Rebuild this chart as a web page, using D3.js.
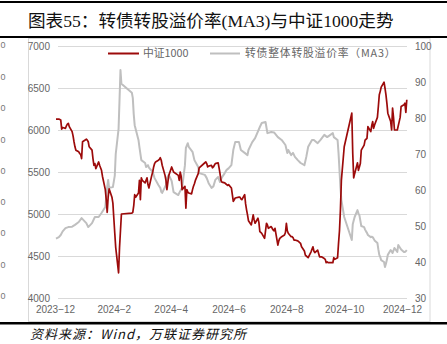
<!DOCTYPE html>
<html><head><meta charset="utf-8">
<script src="https://cdn.jsdelivr.net/npm/d3@7"></script>
<style>
html,body{margin:0;padding:0;background:#fff;}
svg{display:block;}
</style></head>
<body>
<svg id="c" width="447" height="344"></svg>
<script>
// ---------- data ----------
const titleText = "图表55：转债转股溢价率(MA3)与中证1000走势";
const sourceText = "资料来源：Wind，万联证券研究所";
const seriesNames = ["中证1000", "转债整体转股溢价率（MA3）"];
const leftTicks = [4000, 4500, 5000, 5500, 6000, 6500, 7000];
const rightTicks = [30, 40, 50, 60, 70, 80, 90, 100];
const monthTicks = ["2023-12", "2024-2", "2024-4", "2024-6", "2024-8", "2024-10", "2024-12"];

const csiDates = [
"2023-12-01","2023-12-04","2023-12-05","2023-12-06","2023-12-07","2023-12-08","2023-12-11","2023-12-12","2023-12-13","2023-12-14","2023-12-15",
"2023-12-18","2023-12-19","2023-12-20","2023-12-21","2023-12-22","2023-12-25","2023-12-26","2023-12-27","2023-12-28","2023-12-29",
"2024-01-02","2024-01-03","2024-01-04","2024-01-05","2024-01-08","2024-01-09","2024-01-10","2024-01-11","2024-01-12","2024-01-15","2024-01-16",
"2024-01-17","2024-01-18","2024-01-19","2024-01-22","2024-01-23","2024-01-24","2024-01-25","2024-01-26","2024-01-29","2024-01-30","2024-01-31",
"2024-02-01","2024-02-02","2024-02-05","2024-02-06","2024-02-07","2024-02-08","2024-02-19","2024-02-20","2024-02-21","2024-02-22","2024-02-23",
"2024-02-26","2024-02-27","2024-02-28","2024-02-29","2024-03-01","2024-03-04","2024-03-05","2024-03-06","2024-03-07","2024-03-08","2024-03-11",
"2024-03-12","2024-03-13","2024-03-14","2024-03-15","2024-03-18","2024-03-19","2024-03-20","2024-03-21","2024-03-22","2024-03-25","2024-03-26",
"2024-03-27","2024-03-28","2024-03-29","2024-04-01","2024-04-02","2024-04-03","2024-04-08","2024-04-09","2024-04-10","2024-04-11","2024-04-12",
"2024-04-15","2024-04-16","2024-04-17","2024-04-18","2024-04-19","2024-04-22","2024-04-23","2024-04-24","2024-04-25","2024-04-26","2024-04-29",
"2024-04-30","2024-05-06","2024-05-07","2024-05-08","2024-05-09","2024-05-10","2024-05-13","2024-05-14","2024-05-15","2024-05-16","2024-05-17",
"2024-05-20","2024-05-21","2024-05-22","2024-05-23","2024-05-24","2024-05-27","2024-05-28","2024-05-29","2024-05-30","2024-05-31","2024-06-03",
"2024-06-04","2024-06-05","2024-06-06","2024-06-07","2024-06-11","2024-06-12","2024-06-13","2024-06-14","2024-06-17","2024-06-18","2024-06-19",
"2024-06-20","2024-06-21","2024-06-24","2024-06-25","2024-06-26","2024-06-27","2024-06-28","2024-07-01","2024-07-02","2024-07-03","2024-07-04",
"2024-07-05","2024-07-08","2024-07-09","2024-07-10","2024-07-11","2024-07-12","2024-07-15","2024-07-16","2024-07-17","2024-07-18","2024-07-19",
"2024-07-22","2024-07-23","2024-07-24","2024-07-25","2024-07-26","2024-07-29","2024-07-30","2024-07-31","2024-08-01","2024-08-02","2024-08-05",
"2024-08-06","2024-08-07","2024-08-08","2024-08-09","2024-08-12","2024-08-13","2024-08-14","2024-08-15","2024-08-16","2024-08-19","2024-08-20",
"2024-08-21","2024-08-22","2024-08-23","2024-08-26","2024-08-27","2024-08-28","2024-08-29","2024-08-30","2024-09-02","2024-09-03","2024-09-04",
"2024-09-05","2024-09-06","2024-09-09","2024-09-10","2024-09-11","2024-09-12","2024-09-13","2024-09-18","2024-09-19","2024-09-20","2024-09-23",
"2024-09-24","2024-09-25","2024-09-26","2024-09-27","2024-09-30","2024-10-08","2024-10-09","2024-10-10","2024-10-11","2024-10-14","2024-10-15",
"2024-10-16","2024-10-17","2024-10-18","2024-10-21","2024-10-22","2024-10-23","2024-10-24","2024-10-25","2024-10-28","2024-10-29","2024-10-30",
"2024-10-31","2024-11-01","2024-11-04","2024-11-05","2024-11-06","2024-11-07","2024-11-08","2024-11-11","2024-11-12","2024-11-13","2024-11-14",
"2024-11-15","2024-11-18","2024-11-19","2024-11-20","2024-11-21","2024-11-22","2024-11-25","2024-11-26","2024-11-27","2024-11-28","2024-11-29",
"2024-12-02","2024-12-03","2024-12-04","2024-12-05"];
const csiValues = [
6130,6130,6125,6120,6010,6030,6020,6050,6070,6080,6040,
5980,5930,5860,5800,5760,5740,5720,5710,5660,5860,
5890,5880,5860,5800,5760,5660,5580,5600,5540,5620,5580,
5550,5520,5450,5290,5170,5020,5200,5300,5200,5130,4950,
4770,4600,4300,4600,4800,5000,5010,5020,5100,5230,5200,
5250,5400,5170,5430,5400,5370,5400,5430,5350,5310,5460,
5500,5560,5600,5620,5640,5650,5670,5640,5580,5460,5400,
5290,5380,5460,5560,5530,5500,5460,5400,5500,5450,5290,
5330,5070,5290,5260,5250,5240,5290,5330,5360,5400,5480,
5550,5610,5620,5600,5560,5570,5580,5550,5560,5580,5600,
5610,5550,5480,5400,5380,5370,5360,5350,5340,5350,5310,
5230,5150,5170,5190,5200,5200,5180,5170,5230,5120,5050,
4990,4920,4870,4930,4990,4930,4890,4950,4900,4790,4780,
4770,4710,4800,4890,4870,4830,4850,4830,4810,4800,4830,
4630,4680,4710,4720,4730,4750,4780,4890,4800,4770,4730,
4730,4720,4690,4690,4680,4670,4660,4650,4610,4560,4510,
4500,4490,4480,4550,4580,4610,4560,4540,4570,4530,4490,
4490,4490,4470,4460,4420,4430,4420,4420,4480,4460,4480,
4650,4800,5050,5400,5800,6200,5720,5430,5480,5610,5520,
5560,5600,5760,5820,5880,5890,5900,6040,5980,6050,6100,
6020,6060,6150,6280,6420,6460,6510,6570,6500,6420,6320,
6200,6100,6000,6260,6150,6000,6000,6050,6100,6150,6280,
6300,6320,6210,6360];

const premDates = [
"2023-12-01","2023-12-04","2023-12-06","2023-12-08","2023-12-11","2023-12-14","2023-12-18","2023-12-21","2023-12-25","2023-12-28",
"2024-01-02","2024-01-04","2024-01-08","2024-01-11","2024-01-15","2024-01-18","2024-01-22","2024-01-24","2024-01-25","2024-01-26","2024-01-30",
"2024-02-01","2024-02-02","2024-02-05","2024-02-06","2024-02-07","2024-02-08","2024-02-19","2024-02-20","2024-02-21","2024-02-22","2024-02-26",
"2024-02-27","2024-02-29","2024-03-04","2024-03-05","2024-03-07","2024-03-08","2024-03-12","2024-03-14","2024-03-18","2024-03-20","2024-03-21",
"2024-03-22","2024-03-26","2024-03-27","2024-03-29","2024-04-01","2024-04-03","2024-04-08","2024-04-09","2024-04-12","2024-04-15","2024-04-16",
"2024-04-18","2024-04-19","2024-04-23","2024-04-25","2024-04-29","2024-04-30","2024-05-06","2024-05-08","2024-05-10","2024-05-13","2024-05-15",
"2024-05-17","2024-05-20","2024-05-22","2024-05-24","2024-05-27","2024-05-29","2024-05-31","2024-06-03","2024-06-05","2024-06-07","2024-06-11",
"2024-06-13","2024-06-17","2024-06-20","2024-06-21","2024-06-25","2024-06-28","2024-07-03","2024-07-05","2024-07-09","2024-07-11","2024-07-15",
"2024-07-18","2024-07-22","2024-07-26","2024-07-30","2024-08-01","2024-08-02","2024-08-05","2024-08-07","2024-08-09","2024-08-12","2024-08-15",
"2024-08-19","2024-08-21","2024-08-23","2024-08-27","2024-08-29","2024-09-02","2024-09-05","2024-09-09","2024-09-12","2024-09-18","2024-09-19",
"2024-09-23","2024-09-24","2024-09-25","2024-09-26","2024-09-27","2024-09-30","2024-10-08","2024-10-09","2024-10-10","2024-10-11","2024-10-14",
"2024-10-15","2024-10-16","2024-10-17","2024-10-18","2024-10-21","2024-10-22","2024-10-23","2024-10-24","2024-10-25","2024-10-28","2024-10-29",
"2024-10-30","2024-10-31","2024-11-01","2024-11-04","2024-11-05","2024-11-06","2024-11-07","2024-11-08","2024-11-11","2024-11-12","2024-11-13",
"2024-11-14","2024-11-15","2024-11-18","2024-11-19","2024-11-20","2024-11-21","2024-11-22","2024-11-25","2024-11-26","2024-11-27","2024-11-28",
"2024-11-29","2024-12-02","2024-12-03","2024-12-04","2024-12-05"];
const premValues = [
46.5,46.9,47.5,48.5,49.4,49.7,49.8,50.3,51.1,52.2,
50.8,49.7,50.8,52.5,52.5,53.6,55.3,60.8,62.8,60.6,60.8,
64.0,70.0,77.0,85.0,93.3,89.5,87.0,85.6,81.0,78.0,73.9,
71.9,68.3,67.5,66.4,66.9,66.2,65.0,63.3,61.4,60.6,59.5,
59.2,61.4,63.3,64.2,62.5,59.4,58.6,59.2,60.6,66.9,71.7,
73.0,72.0,70.6,68.3,66.4,64.7,64.2,63.3,61.9,60.6,61.0,
62.8,63.6,62.2,63.5,64.7,65.6,66.0,66.9,71.1,73.3,73.3,
71.1,70.3,69.7,71.1,73.3,74.4,77.5,78.6,78.9,75.8,76.1,
76.0,74.7,73.9,72.5,70.3,71.1,69.7,70.3,69.2,68.3,67.5,
66.9,69.2,72.0,73.9,73.9,73.0,73.9,75.3,74.7,75.8,74.7,
73.9,70.3,65.6,60.8,57.2,52.5,46.1,50.5,51.5,52.5,54.4,
53.5,53.0,51.5,50.0,49.7,49.0,48.5,48.1,47.5,46.9,47.0,
46.9,46.5,46.0,45.3,43.5,42.0,41.4,40.5,40.0,38.6,39.5,
40.6,42.0,43.3,43.0,42.5,43.2,43.9,42.8,44.7,44.3,43.9,
43.5,42.8,42.8,43.0,43.3];

// ---------- drawing ----------
const svg = d3.select("#c");
const parse = d3.timeParse("%Y-%m-%d");
const parseM = d3.timeParse("%Y-%m");
const csi = csiDates.map((d,i)=>({date:parse(d), v:csiValues[i]}));
const prem = premDates.map((d,i)=>({date:parse(d), v:premValues[i]}));

const x = d3.scaleTime().domain([parse("2023-12-01"), parse("2024-12-01")]).range([56, 403]);
const yL = d3.scaleLinear().domain([4000, 7000]).range([298, 46]);
const yR = d3.scaleLinear().domain([30, 100]).range([298, 46]);

const cjk = "'Noto Sans CJK SC', 'Noto Sans', sans-serif";
const axisFont = "'Liberation Sans', Arial, sans-serif";

// top & bottom bars
svg.append("rect").attr("x",0).attr("y",1).attr("width",447).attr("height",2).attr("fill","#000");
svg.append("rect").attr("x",0).attr("y",36).attr("width",447).attr("height",2).attr("fill","#000");
svg.append("rect").attr("x",0).attr("y",322).attr("width",447).attr("height",2.5).attr("fill","#000");

// title
svg.append("text").attr("x",28).attr("y",27)
  .attr("font-family","'Liberation Serif', 'Noto Sans CJK SC', serif")
  .attr("font-size",17.6).attr("fill","#111").text(titleText);

// frame
svg.append("rect").attr("x",28.5).attr("y",38.5).attr("width",401.5).attr("height",283)
  .attr("fill","none").attr("stroke","#d9d9d9").attr("stroke-width",1);

// stray labels at the left edge (neighbouring figure)
const strayY = [45, 76.7, 108, 140, 171, 202, 233, 265, 296];
svg.append("g").selectAll("text").data(strayY).join("text")
  .attr("x",0.5).attr("y",d=>d).attr("dy","0.35em").attr("text-anchor","start")
  .attr("font-family",axisFont).attr("font-size",9).attr("fill","#777").text("0");

// gridlines (left axis)
const gridG = svg.append("g");
gridG.selectAll("line").data(leftTicks).join("line")
  .attr("x1",58).attr("x2",407)
  .attr("y1",d=>Math.round(yL(d))+0.5).attr("y2",d=>Math.round(yL(d))+0.5)
  .attr("stroke","#d9d9d9").attr("stroke-width",1);

// left axis
const axL = d3.axisLeft(yL).tickValues(leftTicks).tickSize(0).tickPadding(0).tickFormat(d3.format("d"));
const gL = svg.append("g").attr("transform","translate(50,0)").call(axL);
gL.select(".domain").remove();
gL.selectAll("text").attr("font-family",axisFont).attr("font-size",10).attr("fill","#666");

// right axis
const axR = d3.axisRight(yR).tickValues(rightTicks).tickSize(0).tickPadding(0).tickFormat(d3.format("d"));
const gR = svg.append("g").attr("transform","translate(415,0)").call(axR);
gR.select(".domain").remove();
gR.selectAll("text").attr("font-family",axisFont).attr("font-size",10).attr("fill","#666");

// bottom axis
const monthDates = monthTicks.map(m=>parseM(m));
const axB = d3.axisBottom(x).tickValues(monthDates).tickSize(0).tickPadding(0)
  .tickFormat((d,i)=>monthTicks[i].replace("-", "\u2212"));
const gB = svg.append("g").attr("transform","translate(-1,306)").call(axB);
gB.select(".domain").remove();
gB.selectAll("text").attr("font-family",axisFont).attr("font-size",10).attr("fill","#666");

// lines
const lineL = d3.line().x(d=>x(d.date)).y(d=>yL(d.v));
const lineR = d3.line().x(d=>x(d.date)).y(d=>yR(d.v));
svg.append("path").datum(prem).attr("d",lineR).attr("fill","none")
  .attr("stroke","#bfbfbf").attr("stroke-width",2).attr("stroke-linejoin","round");
svg.append("path").datum(csi).attr("d",lineL).attr("fill","none")
  .attr("stroke","#9c0a0a").attr("stroke-width",1.7).attr("stroke-linejoin","round");

// legend
const leg = svg.append("g");
leg.append("line").attr("x1",108).attr("x2",139).attr("y1",53.5).attr("y2",53.5).attr("stroke","#9c0a0a").attr("stroke-width",2);
leg.append("text").attr("x",143).attr("y",53.5).attr("dy","0.35em").attr("font-family",cjk)
  .attr("font-size",10.8).attr("fill","#666").text(seriesNames[0]);
leg.append("line").attr("x1",210).attr("x2",240).attr("y1",53.5).attr("y2",53.5).attr("stroke","#bfbfbf").attr("stroke-width",2);
leg.append("text").attr("x",245).attr("y",53.5).attr("dy","0.35em").attr("font-family",cjk)
  .attr("font-size",10.8).attr("letter-spacing",0.8).attr("fill","#666").text(seriesNames[1]);

// source
svg.append("text").attr("x",30).attr("y",339)
  .attr("font-family",cjk).attr("font-style","italic")
  .attr("font-size",13).attr("letter-spacing",1).attr("fill","#111").text(sourceText);
</script>
</body></html>
